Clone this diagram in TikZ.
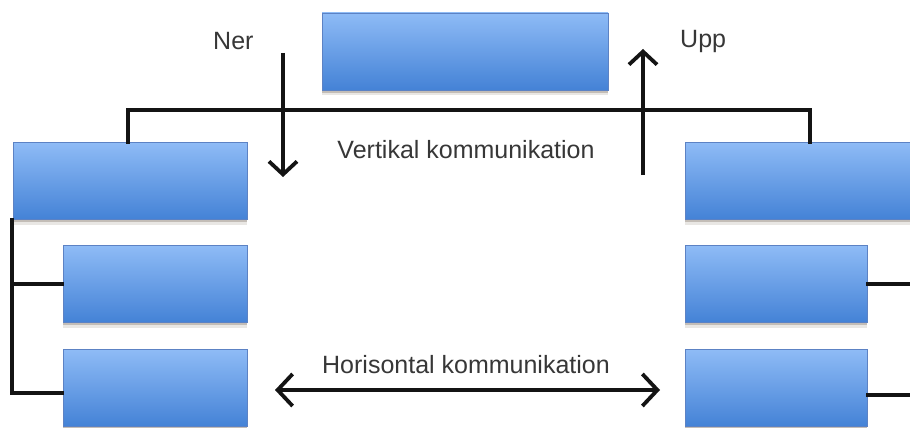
\documentclass[tikz,border=0pt]{standalone}
\usepackage{fontspec}
\setmainfont{Liberation Sans}
\usetikzlibrary{arrows.meta,shadows}

\definecolor{boxtop}{RGB}{142,187,246}
\definecolor{boxbot}{RGB}{68,130,214}
\definecolor{boxrim}{RGB}{92,130,196}
\definecolor{shade}{RGB}{110,95,80}
\definecolor{ink}{RGB}{20,20,20}

\tikzset{
  unit/.style={draw=boxrim, line width=0.7pt, top color=boxtop, bottom color=boxbot,
    inner sep=0pt, minimum height=77pt,
    drop shadow={shadow xshift=0pt, shadow yshift=-2.5pt, opacity=0.3, fill=shade},
    drop shadow={shadow xshift=0pt, shadow yshift=-5pt, opacity=0.15, fill=shade}},
  conn/.style={line width=3.2pt, ink, line cap=rect},
  flow/.style={line width=3.8pt, ink, -{Straight Barb[length=13pt,width=28pt,line width=3.8pt]}},
  both/.style={line width=3.8pt, ink, {Straight Barb[length=15pt,width=32pt,line width=3.8pt]}-{Straight Barb[length=15pt,width=32pt,line width=3.8pt]}},
  lbl/.style={font=\fontsize{25}{29}\selectfont, text=ink!85, inner sep=0pt}
}

\begin{document}
\begin{tikzpicture}[x=1pt,y=-1pt]
  \clip (0,0) rectangle (910,428);
  \fill[white] (0,0) rectangle (910,428);

  % organisation boxes
  \node[unit, minimum width=286pt] (top) at (465,51.5) {};
  \node[unit, minimum width=234pt] (L1) at (130,181) {};
  \node[unit, minimum width=184pt] (L2) at (155,284) {};
  \node[unit, minimum width=184pt] (L3) at (155,388) {};
  \node[unit, minimum width=250pt] (R1) at (810,181) {};
  \node[unit, minimum width=182pt] (R2) at (776,284) {};
  \node[unit, minimum width=182pt] (R3) at (776,388) {};

  % bus between the two departments
  \coordinate (bus) at (465,110);
  \draw[conn] ([xshift=-2pt]L1.north) |- (bus) -| (R1.north);

  % left bracket
  \coordinate (lb) at (12,393);
  \draw[conn] (L1.south west -| lb) -- (lb) -- (lb -| L3.west);
  \draw[conn] (L2.west) -- (L2.west -| lb);

  % right stubs
  \coordinate (rs2) at (915,284);
  \coordinate (rs3) at (915,395);
  \draw[conn] (R2.east) -- (rs2);
  \draw[conn] (R3.east |- rs3) -- (rs3);

  % communication arrows
  \coordinate (d1) at (283,53);
  \coordinate (d2) at (283,177);
  \coordinate (u1) at (643,175);
  \coordinate (u2) at (643,49);
  \coordinate (h1) at (275,390);
  \coordinate (h2) at (660,390);
  \draw[flow] (d1) -- (d2);
  \draw[flow] (u1) -- (u2);
  \draw[both] (h1) -- (h2);

  % labels
  \node[lbl, anchor=base west] (ner) at (213,50) {Ner};
  \node[lbl, anchor=base west] (upp) at (680,48) {Upp};
  \node[lbl, anchor=base] (vert) at (466,158) {Vertikal kommunikation};
  \node[lbl, anchor=base] (hori) at (466,373) {Horisontal kommunikation};
\end{tikzpicture}
\end{document}
